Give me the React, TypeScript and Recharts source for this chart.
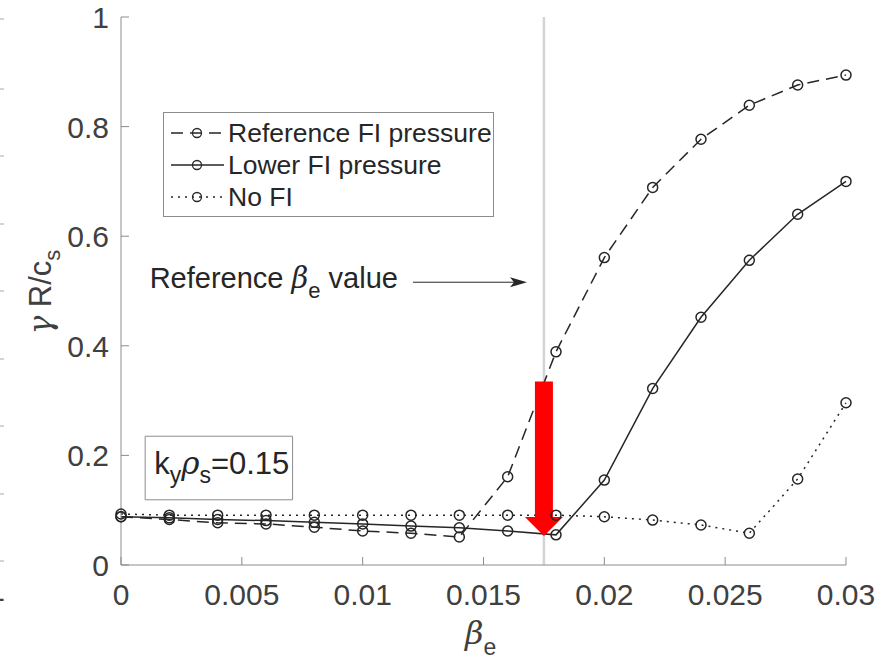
import React from 'react';
import {
  LineChart,
  Line,
  XAxis,
  YAxis,
  ReferenceLine,
  ReferenceArea,
  Legend,
} from 'recharts';

// beta_e scan values
const betaValues = [
  0, 0.002, 0.004, 0.006, 0.008, 0.01, 0.012, 0.014, 0.016, 0.018, 0.02, 0.022,
  0.024, 0.026, 0.028, 0.03,
];

// growth rate gamma R/c_s for each case
const refPressure = [
  0.088, 0.083, 0.077, 0.075, 0.069, 0.062, 0.058, 0.051, 0.161, 0.389, 0.561,
  0.689, 0.777, 0.839, 0.876, 0.894,
];
const lowerPressure = [
  0.088, 0.086, 0.083, 0.081, 0.078, 0.075, 0.071, 0.068, 0.062, 0.055, 0.155,
  0.322, 0.452, 0.556, 0.64, 0.7,
];
const noFI = [
  0.093, 0.091, 0.091, 0.091, 0.091, 0.091, 0.091, 0.091, 0.091, 0.091, 0.088,
  0.082, 0.073, 0.058, 0.157, 0.296,
];

const xTicks = [0, 0.005, 0.01, 0.015, 0.02, 0.025, 0.03];
const xTickLabels = ['0', '0.005', '0.01', '0.015', '0.02', '0.025', '0.03'];
const yTicks = [0, 0.2, 0.4, 0.6, 0.8, 1];
const yTickLabels = ['0', '0.2', '0.4', '0.6', '0.8', '1'];
const seriesNames = ['Reference FI pressure', 'Lower FI pressure', 'No FI'];
const referenceBeta = 0.0175;

const data = betaValues.map((b, i) => ({
  beta: b,
  ref: refPressure[i],
  lower: lowerPressure[i],
  none: noFI[i],
}));

const FONT = '"Liberation Sans", Arial, Helvetica, sans-serif';
const GREEK = '"DejaVu Serif", serif';
const AXIS = '#8c8c8c';
const INK = '#262626';
const LABEL = '#404040';
const DASH = '12 7';
const DOTS = '2 5';

const BottomTick = (props: any) => {
  const { x, y, index } = props;
  return (
    <g>
      <line x1={x} y1={y} x2={x} y2={y - 8} stroke={AXIS} />
      <text x={x} y={y + 40} textAnchor="middle" fontSize={30} fill={LABEL} fontFamily={FONT}>
        {xTickLabels[index]}
      </text>
    </g>
  );
};

const LeftTick = (props: any) => {
  const { x, y, index } = props;
  return (
    <g>
      <line x1={x} y1={y} x2={x + 8} y2={y} stroke={AXIS} />
      <text x={x - 12} y={y + 11} textAnchor="end" fontSize={30} fill={LABEL} fontFamily={FONT}>
        {yTickLabels[index]}
      </text>
    </g>
  );
};

const TopTick = (props: any) => (
  <line x1={props.x} y1={props.y} x2={props.x} y2={props.y + 8} stroke={AXIS} />
);

const RightTick = (props: any) => (
  <line x1={props.x} y1={props.y} x2={props.x - 8} y2={props.y} stroke={AXIS} />
);

const RedArrow = (props: any) => {
  const { x1, y1, y2 } = props;
  const x = x1;
  return (
    <path
      d={`M${x - 9},${y1} L${x + 9},${y1} L${x + 9},${y2 - 19} L${x + 19},${y2 - 19} L${x},${y2} L${x - 19},${y2 - 19} L${x - 9},${y2 - 19} Z`}
      fill="#ff0000"
    />
  );
};

const NoteArrow = (props: any) => {
  const { x1, y1, x2 } = props;
  return (
    <g>
      <line x1={x1} y1={y1} x2={x2 - 6} y2={y1} stroke={INK} strokeWidth={1} />
      <path d={`M${x2},${y1} L${x2 - 17},${y1 - 5} L${x2 - 13},${y1} L${x2 - 17},${y1 + 5} Z`} fill={INK} />
      <text x={x1 - 15} y={y1 + 6} textAnchor="end" fontSize={29} fill={INK} fontFamily={FONT}>
        Reference{' '}
        <tspan fontStyle="italic" fontFamily={GREEK}>β</tspan>
        <tspan dy={10} fontSize={22}>e</tspan>
        <tspan dy={-10}> value</tspan>
      </text>
    </g>
  );
};

const KyLabel = (props: any) => {
  const { x, y } = props.viewBox;
  return (
    <text x={x + 9} y={y + 38} fontSize={31} fill={INK} fontFamily={FONT}>
      k<tspan dy={9} fontSize={23}>y</tspan>
      <tspan dy={-9} fontStyle="italic" fontFamily={GREEK}>ρ</tspan>
      <tspan dy={9} fontSize={23}>s</tspan>
      <tspan dy={-9}>=0.15</tspan>
    </text>
  );
};

const sampleStyles = [DASH, undefined, DOTS];

const LegendBox = () => (
  <div
    style={{
      width: 331,
      height: 105,
      border: `1px solid ${AXIS}`,
      background: '#fff',
      boxSizing: 'border-box',
    }}
  >
    <svg width={329} height={103} style={{ display: 'block' }}>
      {seriesNames.map((name, i) => {
        const cy = 20 + i * 32;
        return (
          <g key={name}>
            <line x1={7} y1={cy} x2={60} y2={cy} stroke={INK} strokeWidth={1.5} strokeDasharray={sampleStyles[i]} />
            <circle cx={33} cy={cy} r={4.5} fill="none" stroke={INK} strokeWidth={1.3} />
            <text x={64} y={cy + 9} fontSize={26.5} fill={INK} fontFamily={FONT}>
              {name}
            </text>
          </g>
        );
      })}
    </svg>
  </div>
);

const edgeTicks = [19, 89, 156, 224, 291, 359, 426, 494, 561];

export default function App() {
  const dot = { r: 5, fill: 'none', stroke: INK, strokeWidth: 1.5, strokeDasharray: '0' };
  return (
    <div style={{ position: 'absolute', left: 0, top: 0, width: 878, height: 661, background: '#fff' }}>
      <svg width={8} height={661} style={{ position: 'absolute', left: 0, top: 0 }}>
        {edgeTicks.map((t) => (
          <line key={t} x1={0} y1={t} x2={4} y2={t} stroke="#aaa" />
        ))}
        <text x={5} y={601} textAnchor="end" fontSize={30} fill={LABEL} fontFamily={FONT}>1</text>
      </svg>
      <LineChart
        width={878}
        height={661}
        data={data}
        margin={{ top: 17, right: 32, left: 61, bottom: 66 }}
        style={{ fontFamily: FONT }}
      >
        <XAxis
          dataKey="beta"
          type="number"
          domain={[0, 0.03]}
          ticks={xTicks}
          tick={<BottomTick />}
          tickLine={false}
          tickSize={0}
          tickMargin={0}
          stroke={AXIS}
          height={30}
          label={{
            content: () => (
              <text x={465} y={644} fontSize={32} fill={LABEL} fontFamily={FONT}>
                <tspan fontStyle="italic" fontFamily={GREEK}>β</tspan>
                <tspan dy={11} fontSize={23}>e</tspan>
              </text>
            ),
          }}
        />
        <XAxis
          xAxisId="top"
          dataKey="beta"
          type="number"
          orientation="top"
          domain={[0, 0.03]}
          ticks={xTicks}
          tick={<TopTick />}
          tickLine={false}
          tickSize={0}
          tickMargin={0}
          stroke={AXIS}
          height={0}
        />
        <YAxis
          type="number"
          domain={[0, 1]}
          ticks={yTicks}
          tick={<LeftTick />}
          tickLine={false}
          tickSize={0}
          tickMargin={0}
          stroke={AXIS}
          width={60}
          label={{
            content: () => (
              <text
                transform="translate(51,292) rotate(-90)"
                textAnchor="middle"
                fontSize={31}
                fill={LABEL}
                fontFamily={FONT}
              >
                <tspan fontFamily={GREEK} fontStyle="italic">γ</tspan> R/c
                <tspan dy={9} fontSize={22}>s</tspan>
              </text>
            ),
          }}
        />
        <YAxis
          yAxisId="right"
          orientation="right"
          type="number"
          domain={[0, 1]}
          ticks={yTicks}
          tick={<RightTick />}
          tickLine={false}
          tickSize={0}
          tickMargin={0}
          stroke={AXIS}
          width={0}
        />
        <ReferenceLine x={referenceBeta} stroke="#d4d4d4" strokeWidth={2.5} />
        <ReferenceArea
          x1={0.001}
          x2={0.0071}
          y1={0.119}
          y2={0.235}
          fill="#ffffff"
          fillOpacity={1}
          stroke={AXIS}
          label={KyLabel}
        />
        <ReferenceLine
          segment={[
            { x: 0.01208, y: 0.516 },
            { x: 0.0168, y: 0.516 },
          ]}
          shape={NoteArrow}
        />
        <Line
          dataKey="ref"
          name={seriesNames[0]}
          stroke={INK}
          strokeWidth={1.5}
          strokeDasharray={DASH}
          dot={dot}
          activeDot={false}
          isAnimationActive={false}
        />
        <Line
          dataKey="lower"
          name={seriesNames[1]}
          stroke={INK}
          strokeWidth={1.5}
          dot={dot}
          activeDot={false}
          isAnimationActive={false}
        />
        <Line
          dataKey="none"
          name={seriesNames[2]}
          stroke={INK}
          strokeWidth={1.5}
          strokeDasharray={DOTS}
          dot={dot}
          activeDot={false}
          isAnimationActive={false}
        />
        <ReferenceLine
          segment={[
            { x: referenceBeta, y: 0.335 },
            { x: referenceBeta, y: 0.053 },
          ]}
          shape={RedArrow}
        />
        <Legend
          layout="horizontal"
          verticalAlign="middle"
          align="center"
          content={LegendBox}
          wrapperStyle={{ left: 163, top: 112, width: 331, height: 105 }}
        />
      </LineChart>
    </div>
  );
}
